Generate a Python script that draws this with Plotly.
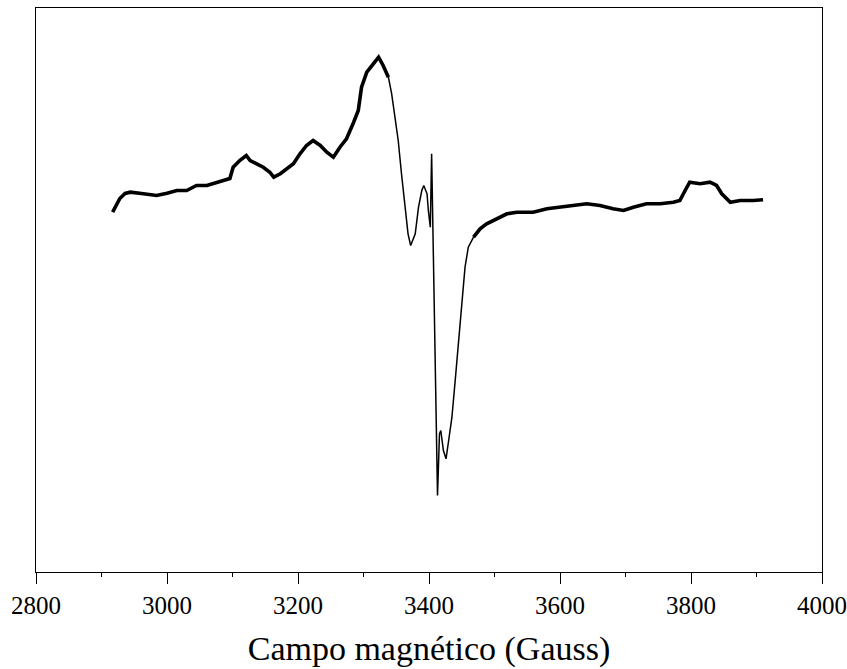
import plotly.graph_objects as go

# EPR spectrum: magnetic field (G) and first-derivative signal (arbitrary units)
field_G = [
    2917, 2921, 2928, 2936, 2944, 2964, 2984, 3000, 3015, 3030,
    3045, 3061, 3076, 3091, 3096, 3101, 3111, 3121, 3127, 3137,
    3147, 3157, 3163, 3173, 3183, 3193, 3203, 3213, 3223, 3234,
    3244, 3254, 3264, 3274, 3284, 3292, 3297, 3305, 3315, 3323,
    3330, 3338, 3343, 3348, 3353, 3358, 3363, 3368, 3372, 3379,
    3384, 3389, 3392, 3397, 3399, 3402, 3404, 3413, 3416, 3418,
    3422, 3426, 3430, 3435, 3440, 3445, 3450, 3455, 3460, 3468,
    3478, 3488, 3503, 3519, 3534, 3559, 3580, 3600, 3620, 3641,
    3661, 3681, 3697, 3712, 3732, 3753, 3773, 3783, 3791, 3798,
    3814, 3829, 3839, 3847, 3860, 3875, 3895, 3910,
]
signal = [
    359.8, 364.8, 373.5, 378.5, 379.8, 378.2, 376.5, 378.8, 381.5, 381.5,
    386.5, 386.5, 389.8, 393.2, 393.5, 404.8, 411.5, 416.5, 411.5, 408.2,
    404.8, 399.8, 394.8, 398.2, 403.2, 408.2, 418.2, 426.5, 431.5, 426.5,
    419.8, 414.8, 424.8, 433.2, 448.2, 461.5, 484.8, 499.8, 508.2, 514.8,
    506.5, 494.8, 478.2, 454.8, 431.5, 398.2, 364.8, 338.2, 326.5, 338.2,
    364.8, 381.5, 386.5, 378.2, 361.5, 344.8, 418.2, 76.5, 138.2, 141.5,
    121.5, 113.2, 131.5, 154.8, 191.5, 231.5, 271.5, 304.8, 324.8, 334.8,
    343.2, 348.2, 353.2, 358.2, 359.8, 359.8, 363.2, 364.8, 366.5, 368.2,
    366.5, 363.2, 361.5, 364.8, 368.2, 368.2, 369.8, 371.5, 381.5, 389.8,
    388.2, 389.8, 386.5, 378.2, 369.8, 371.5, 371.5, 372.2,
]

x_ticks = [2800, 3000, 3200, 3400, 3600, 3800, 4000]

# noisy wings are drawn heavier than the steep central sweep
segments = [
    (lambda b: b <= 3338, 3.6),
    (lambda b: 3338 <= b <= 3468, 1.5),
    (lambda b: b >= 3468, 3.6),
]

fig = go.Figure()
for keep, width in segments:
    xs = [b for b in field_G if keep(b)]
    ys = [s for b, s in zip(field_G, signal) if keep(b)]
    fig.add_trace(go.Scatter(
        x=xs, y=ys, mode="lines",
        line=dict(color="black", width=width),
        showlegend=False, hoverinfo="skip",
    ))

serif = "Liberation Serif"

fig.update_layout(
    width=847, height=669,
    margin=dict(l=36, r=25, t=8, b=97, autoexpand=False),
    paper_bgcolor="white", plot_bgcolor="white",
    font=dict(family=serif, color="black"),
)
fig.update_xaxes(
    range=[2800, 4000], automargin=False,
    tickmode="array", tickvals=x_ticks, ticktext=[str(v) for v in x_ticks],
    ticks="outside", ticklen=11, tickwidth=1, tickcolor="black",
    minor=dict(dtick=100, tick0=2800, ticks="outside", ticklen=4,
               tickwidth=1, tickcolor="black", showgrid=False),
    tickfont=dict(family=serif, size=25, color="black"),
    showline=True, linecolor="black", linewidth=1, mirror=True,
    showgrid=False, zeroline=False,
    title=dict(text="Campo magnético (Gauss)",
               font=dict(family=serif, size=34, color="black"),
               standoff=18),
)
fig.update_yaxes(
    range=[0, 564], automargin=False,
    showticklabels=False, ticks="",
    showline=True, linecolor="black", linewidth=1, mirror=True,
    showgrid=False, zeroline=False,
)

fig.write_html("out.html")
